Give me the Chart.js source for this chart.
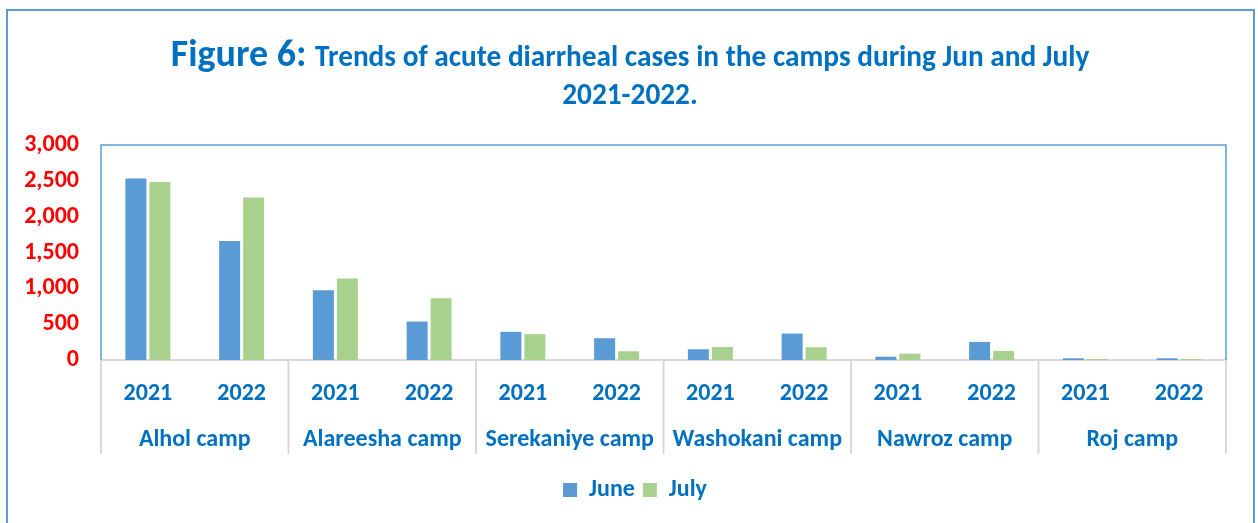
<!DOCTYPE html>
<html>
<head>
<meta charset="utf-8">
<script src="https://cdn.jsdelivr.net/npm/chart.js@4.4.1/dist/chart.umd.min.js"></script>
<style>
html,body{margin:0;padding:0;background:#fff;}
canvas{display:block;}
</style>
</head>
<body>
<canvas id="c" width="1258" height="523"></canvas>
<script>
const years = ['2021','2022','2021','2022','2021','2022','2021','2022','2021','2022','2021','2022'];
const camps = ['Alhol camp','Alareesha camp','Serekaniye camp','Washokani camp','Nawroz camp','Roj camp'];
const juneValues = [2534, 1659, 972, 537, 393, 304, 150, 369, 46, 252, 24, 24];
const julyValues = [2482, 2268, 1136, 860, 360, 122, 182, 178, 88, 126, 14, 14];
const yTicks = [0, 500, 1000, 1500, 2000, 2500, 3000];
const titleLead = 'Figure 6:';
const titleRest = 'Trends of acute diarrheal cases in the camps during Jun and July';
const titleLine2 = '2021-2022.';

const FONT = "Carlito, Lato, 'Open Sans', sans-serif";
const BLUE_TEXT = '#0070c0';

const framePlugin = {
  id: 'frame',
  afterLayout(chart) {
    // centre the legend on the whole frame rather than the padded plot box
    if (chart.legend) {
      chart.legend.left += 22;
      chart.legend.right += 22;
    }
  },
  beforeDraw(chart) {
    const ctx = chart.ctx;
    ctx.save();
    ctx.strokeStyle = '#5b9bd5';
    ctx.lineWidth = 2;
    ctx.beginPath();
    ctx.moveTo(7, 530);
    ctx.lineTo(7, 10);
    ctx.lineTo(1254, 10);
    ctx.lineTo(1254, 530);
    ctx.stroke();
    ctx.restore();
  },
  beforeDatasetsDraw(chart) {
    const ctx = chart.ctx;
    const a = chart.chartArea;
    ctx.save();
    ctx.strokeStyle = '#d9d9d9';
    ctx.lineWidth = 2;
    ctx.beginPath();
    ctx.moveTo(a.left, a.bottom);
    ctx.lineTo(a.right, a.bottom);
    ctx.stroke();
    ctx.restore();
  },
  afterDraw(chart) {
    const ctx = chart.ctx;
    const a = chart.chartArea;
    const x = chart.scales.x;
    ctx.save();
    // plot area border
    ctx.strokeStyle = '#5b9bd5';
    ctx.lineWidth = 1.5;
    ctx.beginPath();
    ctx.moveTo(a.left, a.bottom);
    ctx.lineTo(a.left, a.top);
    ctx.lineTo(a.right, a.top);
    ctx.lineTo(a.right, a.bottom);
    ctx.stroke();
    // group separators
    ctx.strokeStyle = '#d9d9d9';
    ctx.lineWidth = 2;
    const half = (x.getPixelForValue(1) - x.getPixelForValue(0)) / 2;
    ctx.beginPath();
    for (let i = 0; i <= years.length; i += 2) {
      const px = i < years.length ? x.getPixelForValue(i) - half : x.getPixelForValue(years.length - 1) + half;
      ctx.moveTo(px, a.bottom);
      ctx.lineTo(px, a.bottom + 94);
    }
    ctx.stroke();
    // title
    ctx.fillStyle = BLUE_TEXT;
    ctx.textBaseline = 'alphabetic';
    ctx.textAlign = 'left';
    const f1 = "bold 38px " + FONT;
    const f2 = "bold 29.3px " + FONT;
    ctx.font = f1;
    const w1 = ctx.measureText(titleLead + ' ').width;
    ctx.font = f2;
    const w2 = ctx.measureText(titleRest).width;
    const cx = 630;
    let sx = cx - (w1 + w2) / 2;
    ctx.font = f1;
    ctx.fillText(titleLead + ' ', sx, 66);
    ctx.font = f2;
    ctx.fillText(titleRest, sx + w1, 66);
    ctx.textAlign = 'center';
    ctx.fillText(titleLine2, cx, 104);
    ctx.restore();
  }
};

new Chart(document.getElementById('c'), {
  type: 'bar',
  data: {
    labels: years,
    datasets: [
      { label: 'June', data: juneValues, backgroundColor: '#5b9bd5', borderWidth: 0, xAxisID: 'x', yAxisID: 'y' },
      { label: 'July', data: julyValues, backgroundColor: '#a9d18e', borderWidth: 0, xAxisID: 'x', yAxisID: 'y' }
    ]
  },
  options: {
    responsive: false,
    animation: false,
    devicePixelRatio: 1,
    layout: { padding: { top: 145, right: 32, left: 0, bottom: 11 } },
    datasets: { bar: { categoryPercentage: 0.512, barPercentage: 0.875 } },
    plugins: {
      title: { display: false },
      tooltip: { enabled: false },
      legend: {
        position: 'bottom',
        labels: {
          boxWidth: 14, boxHeight: 14, padding: 8,
          color: BLUE_TEXT,
          font: { family: FONT, size: 24, weight: 'bold' }
        }
      }
    },
    scales: {
      y: {
        min: 0, max: 3000,
        afterBuildTicks(s) { s.ticks = yTicks.map(v => ({ value: v })); },
        afterFit(s) { s.width = 101; },
        grid: { display: false, drawTicks: false },
        border: { display: false },
        ticks: {
          padding: 22,
          color: '#ff0000',
          font: { family: FONT, size: 24, weight: 'bold' },
          callback: v => Number(v).toLocaleString('en-US')
        }
      },
      x: {
        position: 'bottom',
        afterFit(s) { s.height = 56; },
        grid: { display: false, drawTicks: false },
        border: { display: false },
        ticks: {
          padding: 20, autoSkip: false, maxRotation: 0,
          color: BLUE_TEXT,
          font: { family: FONT, size: 24, weight: 'bold' }
        }
      },
      x2: {
        type: 'category',
        labels: camps,
        position: 'bottom',
        offset: true,
        afterFit(s) { s.height = 54; },
        grid: { display: false, drawTicks: false },
        border: { display: false },
        ticks: {
          padding: 10, autoSkip: false, maxRotation: 0,
          color: BLUE_TEXT,
          font: { family: FONT, size: 24, weight: 'bold' }
        }
      }
    }
  },
  plugins: [framePlugin]
});
</script>
</body>
</html>
